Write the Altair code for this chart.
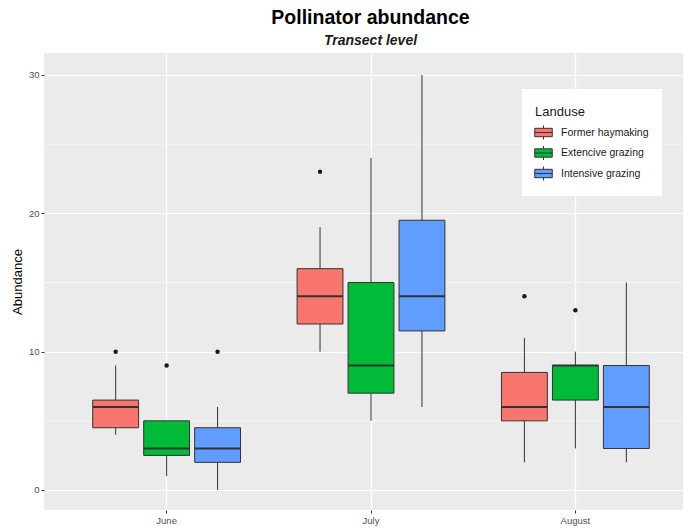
import altair as alt
import pandas as pd

months = ["June", "July", "August"]
landuse = ["Former haymaking", "Extencive grazing", "Intensive grazing"]
colors = ["#F8766D", "#00BA38", "#619CFF"]

# box statistics, ordered month by month, landuse within month
lower = [4, 1, 0, 10, 5, 6, 2, 3, 2]
q1 = [4.5, 2.5, 2, 12, 7, 11.5, 5, 6.5, 3]
median = [6, 3, 3, 14, 9, 14, 6, 9, 6]
q3 = [6.5, 5, 4.5, 16, 15, 19.5, 8.5, 9, 9]
upper = [9, 5, 6, 19, 24, 30, 11, 10, 15]

outlier_month = ["June", "June", "June", "July", "August", "August"]
outlier_landuse = ["Former haymaking", "Extencive grazing", "Intensive grazing",
                   "Former haymaking", "Former haymaking", "Extencive grazing"]
outlier_value = [10, 9, 10, 23, 14, 13]

major_breaks = [0, 10, 20, 30]
minor_breaks = [5, 15, 25]

stats = pd.DataFrame({
    "month": [m for m in months for _ in landuse],
    "landuse": landuse * len(months),
    "lower": lower, "q1": q1, "median": median, "q3": q3, "upper": upper,
})
outliers = pd.DataFrame({"month": outlier_month, "landuse": outlier_landuse,
                         "value": outlier_value})
minor_df = pd.DataFrame({"v": minor_breaks})

yscale = alt.Scale(domain=[-1.446, 31.59], nice=False, zero=False)
x_enc = alt.X("month:N", sort=months,
              scale=alt.Scale(range=[0, 654], paddingInner=0, paddingOuter=0.1),
              axis=alt.Axis(title=None, labelAngle=0, labelPadding=2))
xo_enc = alt.XOffset("landuse:N", sort=landuse,
                     scale=alt.Scale(paddingInner=0.1, paddingOuter=0.555))

minor = alt.Chart(minor_df).mark_rule(color="white", strokeWidth=0.6).encode(
    y=alt.Y("v:Q", scale=yscale)
)

whisk = alt.Chart(stats).mark_rule(color="#333333", strokeWidth=1).encode(
    x=x_enc, xOffset=xo_enc,
    y=alt.Y("lower:Q", scale=yscale,
            axis=alt.Axis(title="Abundance", values=major_breaks)),
    y2="upper:Q",
)

box = alt.Chart(stats).mark_bar(stroke="#333333", strokeWidth=1).encode(
    x=x_enc, xOffset=xo_enc,
    y=alt.Y("q1:Q", scale=yscale),
    y2="q3:Q",
    color=alt.Color("landuse:N", sort=landuse,
                    scale=alt.Scale(domain=landuse, range=colors),
                    legend=alt.Legend(
                        title="Landuse", orient="none", legendX=478, legendY=36,
                        fillColor="white", padding=13,
                        symbolType="M-1.25,-0.6L1.25,-0.6L1.25,0.6L-1.25,0.6Z M-1.25,0L1.25,0 M0,-0.6L0,-1 M0,0.6L0,1",
                        symbolSize=196, symbolStrokeColor="#333333",
                        symbolStrokeWidth=1, symbolOpacity=1,
                        symbolOffset=1, labelOffset=10,
                        titleBaseline="line-top", titleLineHeight=20,
                    )),
)

med = alt.Chart(stats).mark_tick(color="#333333", size=46, thickness=2,
                                  orient="horizontal", opacity=1).encode(
    x=x_enc, xOffset=xo_enc,
    y=alt.Y("median:Q", scale=yscale),
)

outl = alt.Chart(outliers).mark_circle(color="#1a1a1a", size=20, opacity=1).encode(
    x=x_enc, xOffset=xo_enc,
    y=alt.Y("value:Q", scale=yscale),
)

chart = alt.layer(minor, whisk, box, med, outl).properties(
    width=639, height=457,
    title=alt.TitleParams(
        text="Pollinator abundance", subtitle="Transect level",
        fontSize=19.5, fontWeight="bold", color="black",
        subtitleFontSize=14, subtitleFontWeight="bold", subtitleFontStyle="italic",
        subtitleColor="#1a1a1a", subtitlePadding=5.5,
        anchor="middle", frame="group", offset=4.5, dx=7,
        font="Liberation Sans", subtitleFont="Liberation Sans",
    ),
    padding={"left": 36, "top": 45, "right": 0, "bottom": 18},
    autosize=alt.AutoSizeParams(type="none"),
).configure(
    font="Liberation Sans", background="white",
).configure_view(
    fill="#EBEBEB", stroke=None,
).configure_axis(
    domain=False, grid=True, gridColor="white", gridWidth=1.2,
    tickColor="#333333", tickSize=3, tickWidth=1,
    labelColor="#4D4D4D", labelFontSize=9.5, labelPadding=2,
    titleColor="black", titleFontSize=13, titleFontWeight="normal",
    bandPosition=0.5,
).configure_axisY(
    titlePadding=4,
).configure_legend(
    titleFontSize=13, titleFontWeight="normal", titleColor="#1a1a1a",
    labelFontSize=10.5, labelColor="#1a1a1a",
    rowPadding=1.5, titlePadding=10,
)

chart.save("out.html", embed_options={"renderer": "svg", "actions": False})
